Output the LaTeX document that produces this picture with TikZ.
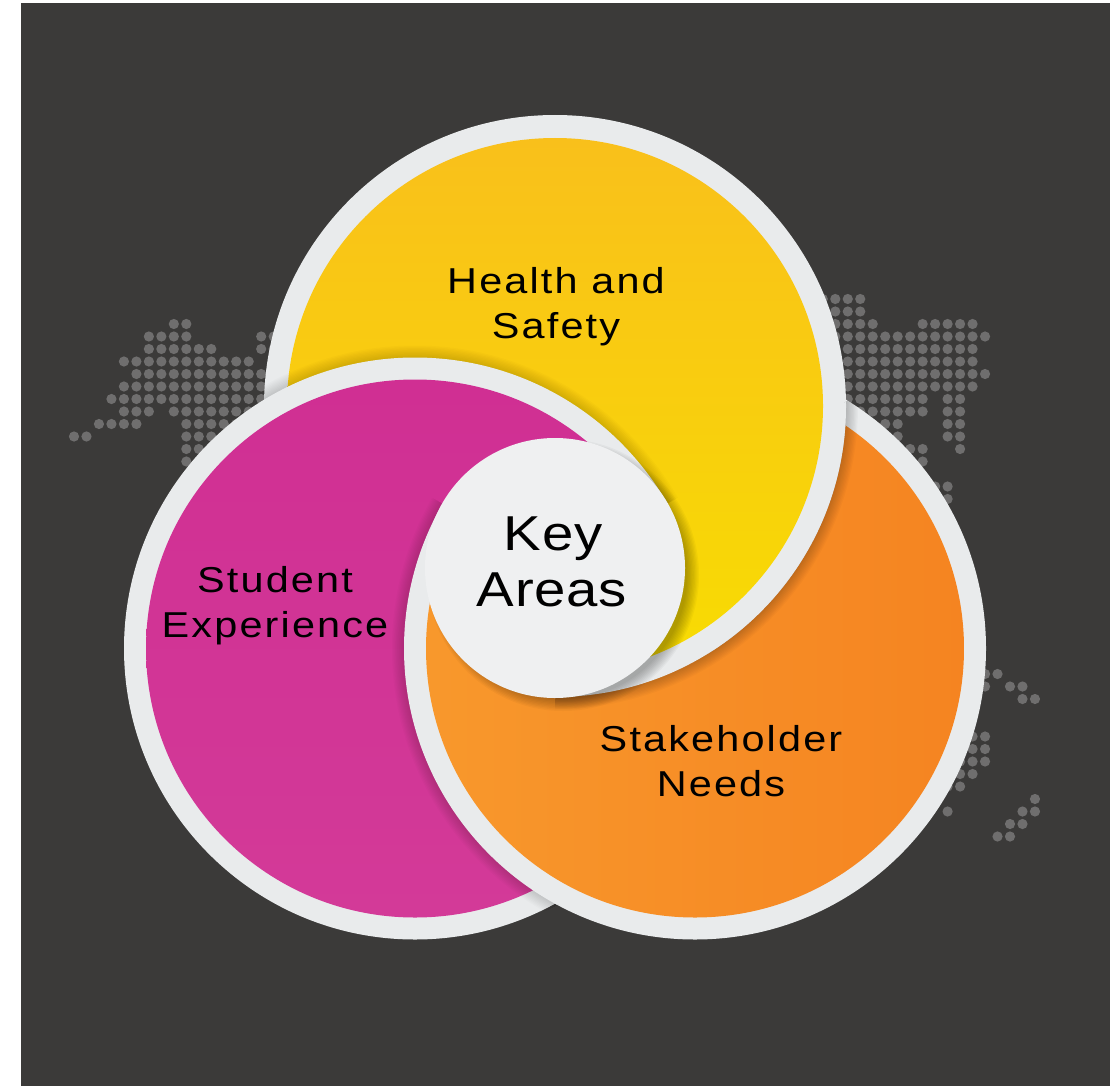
\documentclass[tikz,border=0pt]{standalone}
\usepackage{fontspec}
\newfontfamily\lblfont[FakeStretch=1.15,LetterSpace=6]{Liberation Sans}
\newfontfamily\keyfont[FakeStretch=1.15,LetterSpace=1.5]{Liberation Sans}
\definecolor{bgdark}{HTML}{3B3A39}
\definecolor{dotgrey}{HTML}{6F6E6E}
\definecolor{ringgrey}{HTML}{E9EBEC}
\definecolor{keywhite}{HTML}{EFF0F1}
\definecolor{yeltop}{HTML}{F9C01B}
\definecolor{yelbot}{HTML}{F8DC02}
\definecolor{magtop}{HTML}{D02F93}
\definecolor{magbot}{HTML}{D33A98}
\definecolor{orgA}{HTML}{F8982C}
\definecolor{orgB}{HTML}{F58421}
\tikzset{
  ring/.style={fill=ringgrey,draw=none,even odd rule},
  softlayer/.style={fill=black,draw=none,opacity=0.014,even odd rule},
  dot/.style={fill=dotgrey,draw=none},
  lbl/.style={text=black,align=center,font=\lblfont\fontsize{36}{45}\selectfont,inner sep=0pt},
  keylbl/.style={text=black,align=center,font=\keyfont\fontsize{49}{56}\selectfont,inner sep=0pt},
}
% dots on a grid: x = 74 + 12.48 i, y = 324 + 12.5 j
\newcommand{\dotrow}[2]{\foreach \i in {#2}{\fill[dot] ({74+12.48*\i},{324+12.5*#1}) circle (5.1);}}
% soft edge shadow round a disc of radius 291
\newcommand{\softring}[2]{\foreach \k in {1,...,10}{\fill[softlayer] (#1,#2) circle ({290+1.3*\k}) (#1,#2) circle (289);}}
\newcommand{\yellowc}{%
  \fill[ring] (555,406) circle (291) (555,406) circle (267);
  \shade[top color=yeltop,bottom color=yelbot] (555,406) circle (268);}
\newcommand{\magentac}{%
  \fill[ring] (415,648.5) circle (291) (415,648.5) circle (268);
  \shade[top color=magtop,bottom color=magbot] (415,648.5) circle (269);}
\newcommand{\orangec}{%
  \fill[ring] (695,648.5) circle (291) (695,648.5) circle (268);
  \shade[left color=orgA,right color=orgB] (695,648.5) circle (269);}
\begin{document}
\begin{tikzpicture}[x=1pt,y=-1pt]
\useasboundingbox (0,0) rectangle (1110,1086);
\fill[white] (0,0) rectangle (1110,1086);
\fill[bgdark] (21,3) rectangle (1110,1086);
% left dots
\dotrow{0}{8,9}
\dotrow{1}{6,...,9,15,16,17}
\dotrow{2}{6,...,11,15,16,17}
\dotrow{3}{4,...,14}
\dotrow{4}{5,...,17}
\dotrow{5}{4,...,17}
\dotrow{6}{3,...,17}
\dotrow{7}{4,5,6,8,9,...,17}
\dotrow{8}{2,3,4,5,9,10,...,15}
\dotrow{9}{0,1,9,10,11,12}
\dotrow{10}{9,10,11}
\dotrow{11}{9,10}
% right dots
\dotrow{-2}{60,61,62,63}
\dotrow{-1}{60,61,62,63}
\dotrow{0}{60,...,64,68,69,...,72}
\dotrow{1}{60,...,73}
\dotrow{2}{60,...,72}
\dotrow{3}{60,...,72}
\dotrow{4}{60,...,73}
\dotrow{5}{60,...,72}
\dotrow{6}{60,...,68,70,71}
\dotrow{7}{60,...,68,70,71}
\dotrow{8}{62,...,66,70,71}
\dotrow{9}{62,...,66,70,71}
\dotrow{10}{64,65,66,67,68,71}
\dotrow{11}{64,...,68}
\dotrow{13}{66,...,70}
\dotrow{14}{66,...,70}
% lower right dots
\dotrow{28}{71,72,73,74}
\dotrow{29}{71,72,73,75,76}
\dotrow{30}{76,77}
\dotrow{33}{68,...,73}
\dotrow{34}{68,...,73}
\dotrow{35}{68,...,73}
\dotrow{36}{68,...,72}
\dotrow{37}{68,...,71}
\dotrow{38}{77}
\dotrow{39}{70,76,77}
\dotrow{40}{75,76}
\dotrow{41}{74,75}
% base order: orange, yellow, magenta
\orangec
\yellowc
\begin{scope}
  \clip (555,406) circle (291);
  \softring{415}{648.5}
\end{scope}
\magentac
% orange back over magenta, everywhere but the top sector
\begin{scope}
  \clip (555,568) -- (1300,142) -- (1300,1300) -- (-100,1300) -- (-100,194) -- cycle;
  \clip (415,648.5) circle (293);
  \softring{695}{648.5}
  \orangec
\end{scope}
% yellow back over orange, in the right sector
\begin{scope}
  \clip (555,568) -- (1300,142) -- (1300,1300) -- (555,1300) -- cycle;
  \begin{scope}
    \clip (695,648.5) circle (291);
    \foreach \k in {1,...,10}{\fill[black,draw=none,opacity=0.025,even odd rule] (555,406) circle ({290+1.3*\k}) (555,406) circle (289);}
  \end{scope}
  \yellowc
\end{scope}
% key circle and its shadow
\foreach \k in {1,...,10}{\fill[black,opacity=0.03] (563,575) circle ({123+1.3*\k});}
\fill[keywhite] (555,568) circle (130);
% labels
\node[lbl,anchor=base] (health) at (556,293) {Health and};
\node[lbl,anchor=base] (safety) at (556,338) {Safety};
\node[lbl,anchor=base] (student) at (275,592) {Student};
\node[lbl,anchor=base] (exper) at (275,637) {Experience};
\node[lbl,anchor=base] (stake) at (721,751) {Stakeholder};
\node[lbl,anchor=base] (needs) at (721,796) {Needs};
\node[keylbl,anchor=base] (keyw) at (553,550) {Key};
\node[keylbl,anchor=base] (areas) at (552,606) {Areas};
\end{tikzpicture}
\end{document}
